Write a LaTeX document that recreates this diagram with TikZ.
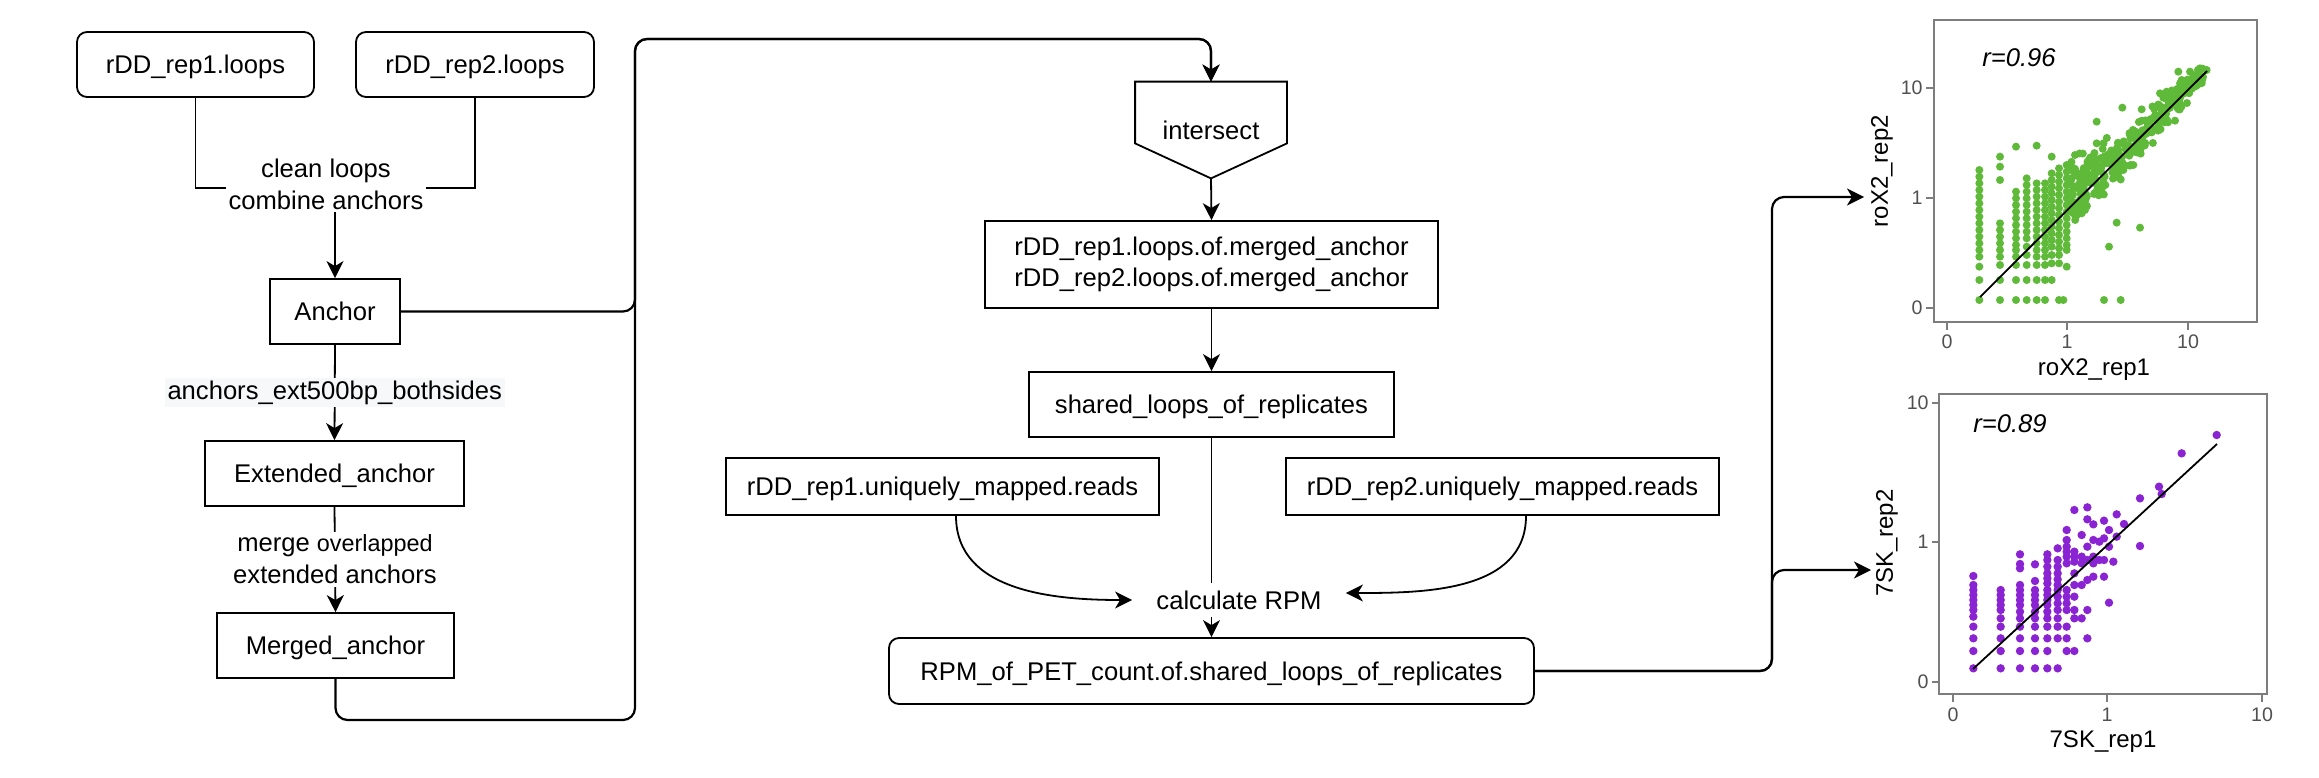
\documentclass[tikz,border=0pt]{standalone}
\usepackage{fontspec}
\setmainfont{Liberation Sans}
\usetikzlibrary{arrows.meta,calc}
\definecolor{gdot}{RGB}{94,186,56}
\definecolor{pdot}{RGB}{138,35,210}
\definecolor{axgray}{RGB}{125,125,125}
\definecolor{ticktxt}{RGB}{80,80,80}
\definecolor{lblbg}{RGB}{247,248,249}
\begin{document}
\begin{tikzpicture}[x=0.5pt,y=-0.5pt,
  font=\fontsize{12.8}{16}\selectfont,
  box/.style={draw,line width=0.9pt,inner sep=0pt,align=center},
  sl/.style={text height=9.3pt,text depth=0pt},
  rbox/.style={box,rounded corners=5pt},
  conn/.style={line width=0.9pt},
  arr/.style={line width=0.9pt,-{Stealth[length=8.5pt,width=8.5pt,inset=2.5pt]}},
  busarr/.style={arr,line width=1.1pt,rounded corners=6pt},
  lbl/.style={inner sep=1.5pt,align=center},
  ticklbl/.style={text=ticktxt,font=\fontsize{9.8}{12}\selectfont,inner sep=0pt},
  axtitle/.style={font=\fontsize{12}{14}\selectfont,inner sep=0pt},
  rlbl/.style={font=\fontsize{12.8}{15}\selectfont\itshape,inner sep=0pt},
  axline/.style={draw=axgray,line width=0.6pt}
]
\fill[white] (0,0) rectangle (2319,777);
\useasboundingbox (0,0) rectangle (2319,777);

% ---------- left column ----------
\node[rbox,sl,minimum width=118.5pt,minimum height=32.5pt] (r1loops) at (195.5,64.5) {rDD\_rep1.loops};
\node[rbox,sl,minimum width=119pt,minimum height=32.5pt] (r2loops) at (475,64.5) {rDD\_rep2.loops};
\node[lbl,inner sep=1pt] (clean) at (326,184) {clean loops\\combine anchors};
\node[box,sl,minimum width=65pt,minimum height=32.5pt] (anchor) at (335,311.5) {Anchor};
\node[box,sl,minimum width=129.5pt,minimum height=32.5pt] (extanchor) at (334.5,473.5) {Extended\_anchor};
\node[box,sl,minimum width=118.5pt,minimum height=32.5pt] (merged) at (335.5,645.5) {Merged\_anchor};

\draw[conn] (r1loops.south) |- ([yshift=-2pt]clean.west);
\draw[conn] (r2loops.south) |- ([yshift=-2pt]clean.east);
\draw[arr] (clean.south -| anchor.north) -- (anchor.north);
\draw[arr] (anchor.south) -- node[lbl,fill=lblbg] (extlbl) {anchors\_ext500bp\_bothsides} (extanchor.north);
\draw[arr] (extanchor.south) -- node[lbl,fill=white] (mergelbl) {merge {\fontsize{11.7}{16}\selectfont overlapped}\\extended anchors} (merged.north);

% ---------- middle column ----------
\node[inner sep=0pt,minimum width=75.5pt,minimum height=48pt] (isect) at (1211,130) {intersect};
\draw[line width=0.9pt] (isect.north west) -- (isect.north east) -- ([yshift=17.5pt]isect.south east) -- (isect.south) -- ([yshift=17.5pt]isect.south west) -- cycle;
\node[box,minimum width=226.5pt,minimum height=43.5pt,font=\fontsize{12.8}{15.5}\selectfont] (loopsm) at (1211.5,264.5) {rDD\_rep1.loops.of.merged\_anchor\\rDD\_rep2.loops.of.merged\_anchor};
\node[box,sl,minimum width=182.5pt,minimum height=32.5pt] (shared) at (1211.5,404.5) {shared\_loops\_of\_replicates};
\node[box,sl,minimum width=216.5pt,minimum height=28.5pt] (reads1) at (942.5,486.5) {rDD\_rep1.uniquely\_mapped.reads};
\node[box,sl,minimum width=216.5pt,minimum height=28.5pt] (reads2) at (1502.5,486.5) {rDD\_rep2.uniquely\_mapped.reads};
\node[sl,inner xsep=12pt,inner ysep=3.6pt] (calc) at (1239,600) {calculate RPM};
\node[rbox,sl,minimum width=322.5pt,minimum height=33pt] (rpm) at (1211.5,671) {RPM\_of\_PET\_count.of.shared\_loops\_of\_replicates};

\coordinate (busTop) at (635,39);
\coordinate (busBot) at (635,720);
\draw[busarr] (anchor.east) -| (busTop) -| (isect.north);
\draw[busarr] (merged.south) |- (busBot) -- (busTop) -| (isect.north);

\draw[arr] (isect.south) -- (loopsm.north);
\draw[arr] (loopsm.south) -- (shared.north);
\draw[conn] (shared.south) -- (shared.south |- calc.north);
\draw[arr] (calc.south -| rpm.north) -- (rpm.north);
\draw[arr] ([xshift=6.75pt]reads1.south) to[out=-90,in=180] (calc.west);
\draw[arr] ([xshift=11.75pt]reads2.south) to[out=-90,in=0] ([yshift=3.5pt]calc.east);

% ---------- connectors to plots ----------
\coordinate (rbus) at (1772,671);
\coordinate (p1in) at (1864,197);
\coordinate (p2in) at (1871,570);
\draw[busarr] (rpm.east) -- (rbus) |- (p1in);
\draw[busarr] (rpm.east) -- (rbus) |- (p2in);

% ---------- plot 1 (roX2) ----------
\draw[axline] (1934,20) rectangle (2257,322);
\foreach \yy/\t in {88/10,198/1,308/0}{
  \draw[axline] (1926,\yy) -- (1934,\yy);
  \node[ticklbl,anchor=east] (p1yt\t) at (1923,\yy) {\t};
}
\foreach \xx/\t in {1947/0,2067/1,2188/10}{
  \draw[axline] (\xx,322) -- (\xx,330);
  \node[ticklbl] (p1xt\t) at (\xx,342) {\t};
}
\foreach \cx/\cys in {
  58/{360,380,400,420,440,460,480,500,520,540,560,580,600,620,650,690,750},
  120/{320,350,390,520,540,560,580,600,620,645,690,750},
  168/{290,425,445,465,485,505,525,545,565,585,600,620,645,690,750},
  200/{385,405,425,445,465,485,505,525,545,565,590,615,645,690,750},
  230/{287,400,420,440,460,480,500,520,540,560,580,600,620,645,690,750},
  255/{400,420,440,460,480,500,520,540,560,580,600,620,645,690,750},
  275/{320,370,390,410,430,450,470,490,510,530,550,570,590,615,640,690},
  297/{355,375,395,415,435,455,475,495,515,535,555,575,595,615,640,750},
  320/{345,365,385,405,425,445,465,485,505,525,545,565,585,600,650},
  310/{750},
  410/{215,280}, 487/{173}, 545/{178}, 470/{518,330}, 540/{533}, 447/{590},
  432/{750}, 482/{750}, 645/{212}, 655/{65}, 690/{65}, 720/{55}, 740/{60},
  700/{75}, 600/{130,195}, 620/{125}, 625/{165}, 520/{345}, 490/{360},
  345/{315}, 355/{470}, 350/{495}, 365/{490}, 375/{480}, 615/{195},
  660/{100}, 665/{90}, 500/{300}}{
  \foreach \cy in \cys {\fill[gdot] ({1960+\cx/3},{50+\cy/3}) circle (2pt);}
}
\pgfmathsetseed{4242}
\foreach \i in {1,...,300}{
  \pgfmathsetmacro\uu{rnd}
  \pgfmathsetmacro\xx{330+400*(\uu^1.3)}
  \pgfmathsetmacro\hh{110-0.2*(\xx-330)}
  \pgfmathsetmacro\bb{(\xx<480) ? (40*(480-\xx)/150) : 0}
  \pgfmathsetmacro\yy{740-(\xx-60)*0.997-\bb+(rand+rand)*\hh*0.55}
  \fill[gdot] ({1960+\xx/3},{50+\yy/3}) circle (2pt);
}
\draw[line width=0.9pt] (1980,297) -- (2207,71);
\node[rlbl] (p1r) at (2019,58) {r=0.96};
\node[axtitle] (p1x) at (2094,370) {roX2\_rep1};
\node[axtitle,rotate=90] (p1y) at (1882,171) {roX2\_rep2};

% ---------- plot 2 (7SK) ----------
\draw[axline] (1939,394) rectangle (2267,694);
\foreach \yy/\t in {403/10,542/1,682/0}{
  \draw[axline] (1932,\yy) -- (1939,\yy);
  \node[ticklbl,anchor=east] (p2yt\t) at (1929,\yy) {\t};
}
\foreach \xx/\t in {1953/0,2107/1,2262/10}{
  \draw[axline] (\xx,694) -- (\xx,702);
  \node[ticklbl] (p2xt\t) at (\xx,715) {\t};
}
\foreach \cx/\cys in {
  40/{468,495,510,525,540,555,570,590,620,655,693,745},
  122/{510,525,540,555,570,595,620,655,693,745},
  180/{403,432,445,495,510,525,540,555,575,595,620,655,693,745},
  225/{433,483,510,525,540,555,575,595,620,655,693,745},
  262/{403,420,440,460,475,490,510,525,540,555,575,595,620,655,693,745},
  293/{385,420,440,460,478,495,510,530,550,570,595,620,655,745},
  320/{330,360,380,395,410,430,510,530,550,570,620,655,693},
  343/{270,395,410,425,460,495,530,570,595,693},
  365/{345,410,430,495,595},
  382/{262,298,380,420,480,570,655},
  400/{313,360,410,430,470},
  418/{365,420},
  432/{302,355,420,470},
  447/{330,380,548},
  460/{425}, 470/{283,350}, 492/{312}, 540/{235,378},
  597/{200}, 605/{222}, 665/{100}, 770/{45}}{
  \foreach \cy in \cys {\fill[pdot] ({1960+\cx/3},{420+\cy/3}) circle (2.1pt);}
}
\draw[line width=0.9pt] (1973,669) -- (2217,444);
\node[rlbl] (p2r) at (2010,424) {r=0.89};
\node[axtitle] (p2x) at (2103,742) {7SK\_rep1};
\node[axtitle,rotate=90] (p2y) at (1887,543) {7SK\_rep2};
\end{tikzpicture}
\end{document}
